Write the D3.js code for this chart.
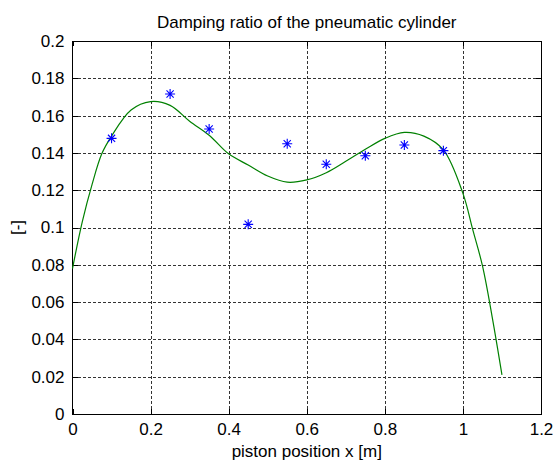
<!DOCTYPE html>
<html>
<head>
<meta charset="utf-8">
<script src="https://cdn.jsdelivr.net/npm/d3@7"></script>
<style>
  html, body { margin: 0; padding: 0; background: #fff; }
  svg { display: block; }
  text { font-family: "Liberation Sans", Arial, Helvetica, sans-serif; fill: #000; }
</style>
</head>
<body>
<svg id="chart" width="555" height="465"></svg>
<script>
// Measured points (blue stars)
const measX = [0.1, 0.25, 0.35, 0.45, 0.55, 0.65, 0.75, 0.85, 0.95];
const measY = [0.1478, 0.1716, 0.1528, 0.1017, 0.1449, 0.1339, 0.1385, 0.1442, 0.1412];

// Fitted curve (green)
const fitX = [0, 0.025, 0.05, 0.075, 0.1, 0.15, 0.2, 0.25, 0.3, 0.35, 0.4, 0.45, 0.5, 0.55, 0.6, 0.65, 0.7, 0.75, 0.8, 0.85, 0.9, 0.95, 1.0, 1.025, 1.05, 1.075, 1.1];
const fitY = [0.078, 0.103, 0.123, 0.1395, 0.149, 0.163, 0.1675, 0.1655, 0.157, 0.1495, 0.1395, 0.1335, 0.1276, 0.1243, 0.1255, 0.1294, 0.1355, 0.1419, 0.1478, 0.151, 0.149, 0.1416, 0.1183, 0.099, 0.0795, 0.052, 0.021];

// Axis ticks
const xTicks = [0, 0.2, 0.4, 0.6, 0.8, 1.0, 1.2];
const xTickLabels = ["0", "0.2", "0.4", "0.6", "0.8", "1", "1.2"];
const yTicks = [0, 0.02, 0.04, 0.06, 0.08, 0.1, 0.12, 0.14, 0.16, 0.18, 0.2];
const yTickLabels = ["0", "0.02", "0.04", "0.06", "0.08", "0.1", "0.12", "0.14", "0.16", "0.18", "0.2"];

const titleText = "Damping ratio of the pneumatic cylinder";
const xLabelText = "piston position x [m]";
const yLabelText = "[-]";

const svg = d3.select("#chart");
const L = 72.5, R = 541, T = 41, B = 414;
const x = d3.scaleLinear().domain([0, 1.2]).range([L, R]);
const y = d3.scaleLinear().domain([0, 0.2]).range([B, T]);
const fontSize = 17;

svg.append("rect").attr("width", 555).attr("height", 465).attr("fill", "#fff");

// Grid
const grid = svg.append("g").attr("stroke", "#333").attr("stroke-width", 1).attr("stroke-dasharray", "3,2").attr("shape-rendering", "crispEdges");
xTicks.filter(v => v > 0 && v < 1.2).forEach(v => {
  grid.append("line").attr("x1", Math.round(x(v)) + 0.5).attr("x2", Math.round(x(v)) + 0.5).attr("y1", T).attr("y2", B);
});
yTicks.filter(v => v > 0 && v < 0.2).forEach(v => {
  grid.append("line").attr("y1", Math.round(y(v)) + 0.5).attr("y2", Math.round(y(v)) + 0.5).attr("x1", L).attr("x2", R);
});

// Axes with inward ticks
const tickLen = 5;
const xAxisB = d3.axisBottom(x).tickValues(xTicks).tickSizeInner(-tickLen).tickSizeOuter(0).tickPadding(tickLen + 4)
  .tickFormat((d, i) => xTickLabels[i]);
const gxb = svg.append("g").attr("transform", `translate(0,${B})`).call(xAxisB);
const xAxisT = d3.axisTop(x).tickValues(xTicks).tickSizeInner(-tickLen).tickSizeOuter(0).tickFormat("");
const gxt = svg.append("g").attr("transform", `translate(0,${T})`).call(xAxisT);
const yAxisL = d3.axisLeft(y).tickValues(yTicks).tickSizeInner(-tickLen).tickSizeOuter(0).tickPadding(tickLen + 3)
  .tickFormat((d, i) => yTickLabels[i]);
const gyl = svg.append("g").attr("transform", `translate(${L},0)`).call(yAxisL);
const yAxisR = d3.axisRight(y).tickValues(yTicks).tickSizeInner(-tickLen).tickSizeOuter(0).tickFormat("");
const gyr = svg.append("g").attr("transform", `translate(${R},0)`).call(yAxisR);

[gxb, gxt, gyl, gyr].forEach(g => {
  g.select(".domain").remove();
  g.selectAll("line").attr("stroke", "#000").attr("shape-rendering", "crispEdges");
  g.selectAll("text").attr("font-size", fontSize).attr("font-family", '"Liberation Sans", Arial, sans-serif').attr("fill", "#000");
});

// Box
svg.append("rect").attr("x", L).attr("y", T).attr("width", R - L).attr("height", B - T)
  .attr("fill", "none").attr("stroke", "#000").attr("stroke-width", 1).attr("shape-rendering", "crispEdges");

// Fitted curve
const fitData = fitX.map((v, i) => [v, fitY[i]]);
svg.append("path").datum(fitData)
  .attr("fill", "none").attr("stroke", "#008000").attr("stroke-width", 1.2)
  .attr("d", d3.line().x(d => x(d[0])).y(d => y(d[1])).curve(d3.curveCatmullRom.alpha(0.5)));

// Star markers
const s = 5, sd = 3.6;
const starPath = `M0,${-s}L0,${s}M${-s},0L${s},0M${-sd},${-sd}L${sd},${sd}M${-sd},${sd}L${sd},${-sd}`;
svg.append("g").selectAll("path").data(measX.map((v, i) => [v, measY[i]])).join("path")
  .attr("transform", d => `translate(${x(d[0])},${y(d[1])})`)
  .attr("d", starPath).attr("stroke", "#0000ff").attr("stroke-width", 1.1).attr("fill", "none");

// Title & labels
svg.append("text").attr("x", (L + R) / 2).attr("y", 28).attr("text-anchor", "middle").attr("font-size", fontSize).text(titleText);
svg.append("text").attr("x", (L + R) / 2).attr("y", 457).attr("text-anchor", "middle").attr("font-size", fontSize).text(xLabelText);
svg.append("text").attr("transform", `translate(23,${(T + B) / 2}) rotate(-90)`).attr("text-anchor", "middle").attr("font-size", fontSize).text(yLabelText);
</script>
</body>
</html>
